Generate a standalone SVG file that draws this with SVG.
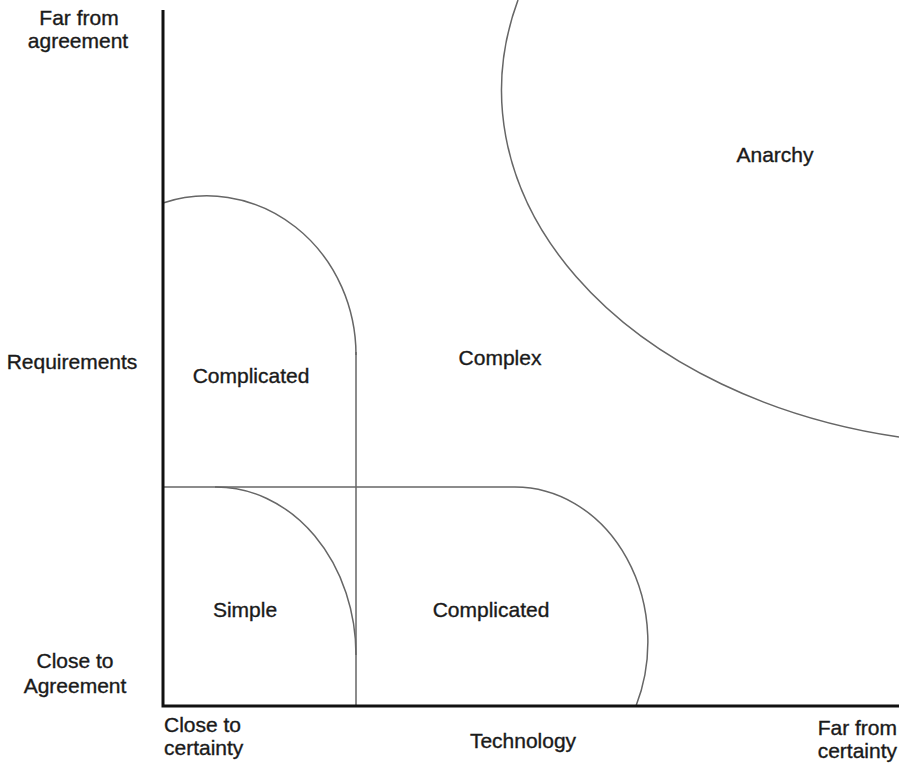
<svg xmlns="http://www.w3.org/2000/svg" width="899" height="766" viewBox="0 0 899 766">
<style>
text{font-family:"Liberation Sans",Arial,sans-serif;font-size:21px;fill:#1a1a1a;stroke:#1a1a1a;stroke-width:0.35}
.axis{stroke:#111;stroke-width:3;fill:none}
.bd{stroke:#666;stroke-width:1.5;fill:none}
</style>
<rect width="899" height="766" fill="#fff"/>
<g id="connectors">
<path class="bd" d="M163 487 H515"/>
<path class="bd" d="M356 352 V706"/>
<path class="bd" d="M515 487 A133 155 0 0 1 636 706"/>
<path class="bd" d="M163 203 A149 159 0 0 1 356 355"/>
<path class="bd" d="M215 487 A140 168 0 0 1 356 655"/>
<path class="bd" d="M518 0 A498 354 0 0 0 899 437"/>
<path class="axis" d="M163 10 V706 H899"/>
</g>
<g id="anarchy"><text x="775" y="162" text-anchor="middle">Anarchy</text></g>
<g id="complex"><text x="500" y="365" text-anchor="middle">Complex</text></g>
<g id="complicated-upper"><text x="251" y="383" text-anchor="middle">Complicated</text></g>
<g id="simple"><text x="245" y="617" text-anchor="middle">Simple</text></g>
<g id="complicated-lower"><text x="491" y="617" text-anchor="middle">Complicated</text></g>
<g id="y-labels">
<text x="79" y="25" text-anchor="middle">Far from</text>
<text x="78" y="48" text-anchor="middle">agreement</text>
<text x="72" y="369" text-anchor="middle">Requirements</text>
<text x="75" y="668" text-anchor="middle">Close to</text>
<text x="75" y="693" text-anchor="middle">Agreement</text>
</g>
<g id="x-labels">
<text x="164" y="732">Close to</text>
<text x="164" y="755">certainty</text>
<text x="523" y="748" text-anchor="middle">Technology</text>
<text x="897" y="735" text-anchor="end">Far from</text>
<text x="897" y="758" text-anchor="end">certainty</text>
</g>
</svg>
